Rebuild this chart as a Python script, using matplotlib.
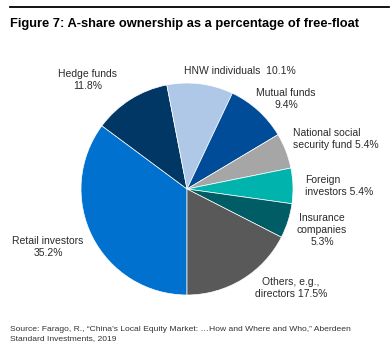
import matplotlib.pyplot as plt
from matplotlib.lines import Line2D

plt.rcParams['font.family'] = ['Liberation Sans', 'DejaVu Sans']

# data, read clockwise from 6 o'clock
labels = ["Retail investors\n35.2%", "Hedge funds\n11.8%", "HNW individuals  10.1%",
          "Mutual funds\n9.4%", "National social\nsecurity fund 5.4%",
          "Foreign\ninvestors 5.4%", "Insurance\ncompanies\n5.3%", "Others, e.g.,\ndirectors 17.5%"]
shares = [35.2, 11.8, 10.1, 9.4, 5.4, 5.4, 5.3, 17.5]
colors = ["#0071CE", "#003764", "#AFC8E8", "#004C98", "#A6A6A6",
          "#00B3AC", "#005D66", "#595959"]

W, H = 391, 351
fig = plt.figure(figsize=(W / 100, H / 100), dpi=100)

def fx(x):
    return x / W

def fy(y):
    return 1 - y / H

# pie centre ~ (187, 189) px, radius ~106 px
ax = fig.add_axes([fx(81), fy(295), 212 / W, 212 / H])
ax.pie(shares, colors=colors, startangle=-90, counterclock=False,
       wedgeprops=dict(edgecolor="white", linewidth=0.5))
ax.set_xlim(-1, 1)
ax.set_ylim(-1, 1)
ax.set_aspect("equal")
ax.axis("off")

# label placement in pixels (x, y, ha)
spots = [(48, 247, "center"), (88, 80, "center"), (184, 71, "left"),
         (286, 99, "center"), (293, 139, "left"), (305, 186, "left"),
         (322, 230, "center"), (291, 288, "center")]
for lab, (x, y, ha) in zip(labels, spots):
    fig.text(fx(x), fy(y), lab, ha=ha, va="center", fontsize=7.5,
             color="#2a2a2a", linespacing=1.25)

fig.add_artist(Line2D([fx(10), fx(389)], [fy(7), fy(7)], color="black", lw=1.3))
fig.text(fx(10), fy(24), "Figure 7: A-share ownership as a percentage of free-float",
         ha="left", va="center", fontsize=9.3, fontweight="bold")
fig.text(fx(10), fy(334),
         "Source: Farago, R., \u201cChina\u2019s Local Equity Market: \u2026How and Where and Who,\u201d Aberdeen\nStandard Investments, 2019",
         ha="left", va="center", fontsize=6.1, color="#333333", linespacing=1.5)

fig.savefig("out.png", dpi=100)
